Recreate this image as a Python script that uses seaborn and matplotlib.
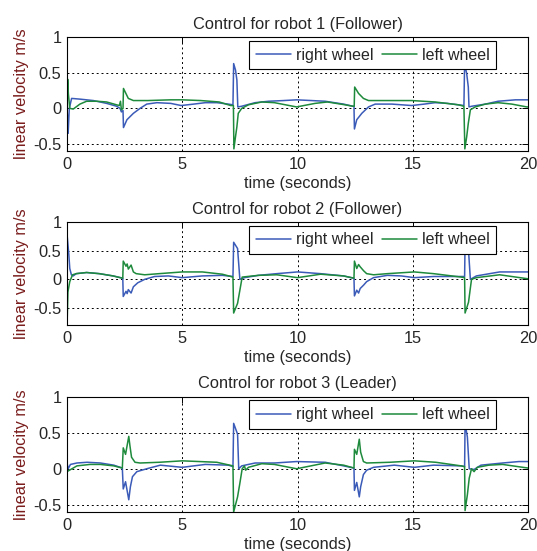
import matplotlib
matplotlib.use("Agg")
import matplotlib.pyplot as plt
import seaborn as sns
import pandas as pd

# ---------------- data (time s, velocity m/s) ----------------
titles = ["Control for robot 1 (Follower)", "Control for robot 2 (Follower)", "Control for robot 3 (Leader)"]
series_labels = ["right wheel", "left wheel"]
x_ticks = [0, 5, 10, 15, 20]
y_ticks = [-0.5, 0, 0.5, 1]
y_limits = [(-0.6, 1), (-0.8, 1), (-0.6, 1)]

r1_right = [(0, 0), (0.02, -0.1), (0.05, -0.35), (0.1, 0.0), (0.2, 0.14), (0.56, 0.13), (1.14, 0.11),
            (1.72, 0.07), (2.15, 0.03), (2.3, 0.0), (2.36, -0.05), (2.43, -0.03), (2.45, -0.27),
            (2.6, -0.16), (2.88, -0.07), (3.17, 0.0), (3.46, 0.06), (3.9, 0.08), (4.5, 0.07),
            (4.95, 0.04), (5.5, 0.06), (6.0, 0.08), (6.5, 0.08), (7.0, 0.06), (7.2, 0.05),
            (7.23, 0.63), (7.31, 0.54), (7.37, 0.4), (7.41, 0.02), (7.58, 0.03), (8.16, 0.08),
            (8.74, 0.1), (9.4, 0.11), (9.96, 0.12), (10.6, 0.11), (11.2, 0.1), (12.0, 0.06),
            (12.4, 0.03), (12.45, 0.03), (12.47, -0.29), (12.57, -0.16), (12.79, -0.07), (13.08, 0.02),
            (13.37, 0.06), (14.1, 0.06), (14.95, 0.04), (15.5, 0.06), (15.97, 0.08), (16.5, 0.07),
            (16.98, 0.05), (17.22, 0.04), (17.25, 0.63), (17.34, 0.49), (17.41, 0.3), (17.44, 0.02),
            (17.56, 0.03), (18.15, 0.06), (18.7, 0.1), (19.45, 0.12), (20, 0.12)]
r1_left = [(0, 0), (0.03, 0.41), (0.06, 0.2), (0.12, 0.0), (0.27, -0.01), (0.56, 0.06), (0.85, 0.1),
           (1.3, 0.1), (1.72, 0.09), (2.15, 0.05), (2.27, 0.04), (2.32, 0.1), (2.36, -0.02), (2.43, 0.0),
           (2.45, 0.28), (2.66, 0.14), (2.88, 0.11), (3.5, 0.11), (4.5, 0.12), (5.0, 0.12), (5.8, 0.11),
           (6.6, 0.09), (7.1, 0.04), (7.22, 0.04), (7.24, -0.57), (7.31, -0.4), (7.37, -0.26),
           (7.43, -0.07), (7.58, 0.0), (7.87, 0.05), (8.45, 0.09), (9.0, 0.08), (9.96, 0.02),
           (10.76, 0.07), (11.3, 0.09), (12.06, 0.05), (12.4, 0.03), (12.46, 0.03), (12.48, 0.3),
           (12.65, 0.21), (12.86, 0.14), (13.08, 0.11), (13.5, 0.11), (14.95, 0.11), (15.97, 0.09),
           (16.98, 0.05), (17.22, 0.03), (17.26, -0.57), (17.34, -0.4), (17.41, -0.21), (17.5, -0.02),
           (17.71, 0.02), (18.15, 0.06), (18.7, 0.08), (19.3, 0.06), (19.95, 0.02), (20, 0.02)]

r2_right = [(0, 0), (0.01, 0.75), (0.08, 0.43), (0.12, 0.19), (0.19, 0.08), (0.27, 0.06), (0.4, 0.1),
            (0.85, 0.12), (1.4, 0.1), (2.0, 0.06), (2.42, 0.02), (2.44, -0.3), (2.56, -0.21), (2.61, -0.25),
            (2.66, -0.18), (2.78, -0.24), (2.88, -0.13), (3.07, -0.06), (3.37, 0.0), (3.8, 0.05),
            (4.4, 0.06), (5.0, 0.03), (5.87, 0.06), (6.74, 0.07), (7.2, 0.05), (7.23, 0.65), (7.4, 0.54),
            (7.5, 0.0), (7.7, 0.03), (8.3, 0.07), (9.1, 0.1), (10.0, 0.13), (11.0, 0.1), (12.0, 0.06),
            (12.45, 0.02), (12.47, -0.29), (12.57, -0.19), (12.65, -0.24), (12.72, -0.16), (12.87, -0.1),
            (13.0, -0.04), (13.3, 0.03), (13.9, 0.07), (14.5, 0.06), (15.07, 0.03), (15.9, 0.05),
            (17.1, 0.05), (17.25, 0.05), (17.27, 0.65), (17.42, 0.5), (17.5, 0.0), (17.76, 0.06),
            (18.77, 0.13), (20, 0.13)]
r2_left = [(0, 0), (0.01, -0.68), (0.04, -0.22), (0.12, -0.04), (0.24, 0.08), (0.4, 0.1), (0.85, 0.12),
           (1.4, 0.1), (2.0, 0.06), (2.42, 0.02), (2.44, 0.32), (2.56, 0.23), (2.61, 0.27), (2.66, 0.18),
           (2.78, 0.25), (2.88, 0.13), (3.0, 0.1), (3.37, 0.08), (4.0, 0.1), (5.0, 0.13), (5.87, 0.13),
           (6.74, 0.09), (7.2, 0.04), (7.23, -0.59), (7.4, -0.42), (7.5, -0.19), (7.6, 0.04), (8.3, 0.07),
           (9.1, 0.08), (10.0, 0.03), (11.0, 0.09), (12.0, 0.06), (12.45, 0.02), (12.47, 0.32),
           (12.57, 0.19), (12.65, 0.26), (12.72, 0.22), (12.87, 0.15), (13.0, 0.1), (13.3, 0.08),
           (13.9, 0.1), (15.07, 0.13), (15.9, 0.1), (17.1, 0.04), (17.25, 0.03), (17.27, -0.59),
           (17.42, -0.4), (17.5, -0.15), (17.55, 0.0), (17.76, 0.03), (18.77, 0.08), (20, 0.01)]

r3_right = [(0, 0.08), (0.05, 0.0), (0.15, 0.06), (0.43, 0.08), (0.87, 0.09), (1.45, 0.08), (2.03, 0.05),
            (2.4, 0.01), (2.44, -0.28), (2.54, -0.18), (2.68, -0.43), (2.75, -0.25), (2.84, -0.11),
            (3.03, -0.04), (3.46, 0.0), (4.05, 0.05), (5.0, 0.02), (6.0, 0.06), (7.0, 0.05), (7.2, 0.03),
            (7.23, 0.63), (7.4, 0.48), (7.45, 0.0), (7.58, 0.04), (8.16, 0.08), (9.0, 0.08), (9.96, 0.1),
            (11.2, 0.09), (12.0, 0.04), (12.45, 0.01), (12.47, -0.3), (12.57, -0.19), (12.68, -0.39),
            (12.74, -0.25), (12.86, -0.08), (13.0, -0.02), (13.3, 0.02), (14.2, 0.05), (15.07, 0.02),
            (15.9, 0.05), (17.1, 0.04), (17.25, 0.03), (17.27, 0.63), (17.37, 0.44), (17.45, 0.0),
            (17.66, -0.01), (17.96, 0.05), (18.9, 0.08), (19.6, 0.1), (20, 0.1)]
r3_left = [(0, -0.04), (0.43, 0.04), (1.0, 0.06), (1.45, 0.06), (2.03, 0.04), (2.4, 0.01), (2.44, 0.29),
           (2.54, 0.2), (2.68, 0.45), (2.73, 0.32), (2.8, 0.16), (2.95, 0.09), (3.17, 0.08), (4.0, 0.09),
           (5.0, 0.11), (6.5, 0.09), (7.2, 0.04), (7.23, -0.6), (7.4, -0.39), (7.5, -0.2), (7.6, 0.0),
           (7.7, 0.04), (7.75, -0.02), (7.87, 0.02), (8.45, 0.07), (9.0, 0.06), (9.96, 0.0), (11.2, 0.08),
           (12.0, 0.05), (12.45, 0.01), (12.47, 0.27), (12.57, 0.2), (12.68, 0.41), (12.74, 0.23),
           (12.86, 0.1), (13.0, 0.08), (14.0, 0.09), (15.07, 0.11), (16.0, 0.09), (17.1, 0.04),
           (17.25, 0.03), (17.27, -0.58), (17.37, -0.36), (17.45, -0.13), (17.55, 0.0), (17.66, -0.04),
           (17.8, 0.02), (18.3, 0.05), (18.9, 0.06), (20, 0.01)]

robots = [(r1_right, r1_left), (r2_right, r2_left), (r3_right, r3_left)]

# ---------------- style ----------------
sns.set_style("white")
plt.rcParams["font.family"] = ["Liberation Sans", "DejaVu Sans"]
plt.rcParams["xtick.direction"] = "in"
plt.rcParams["ytick.direction"] = "in"

blue = "#3b5bb8"
green = "#1e8a3c"
label_red = "#7a1c1c"
fs = 11.8

fig = plt.figure(figsize=(5.37, 5.51), dpi=100)
W, H = 537, 551
left_px, right_px = 67, 528
boxes = [(37.3, 151), (222.3, 325), (396.7, 512)]

for i, ((rr, ll), (top, bot)) in enumerate(zip(robots, boxes)):
    ax = fig.add_axes([left_px / W, 1 - bot / H, (right_px - left_px) / W, (bot - top) / H])
    df_r = pd.DataFrame(rr, columns=["t", "v"])
    df_l = pd.DataFrame(ll, columns=["t", "v"])
    sns.lineplot(data=df_r, x="t", y="v", ax=ax, color=blue, lw=1.1, sort=False,
                 estimator=None, label=series_labels[0])
    sns.lineplot(data=df_l, x="t", y="v", ax=ax, color=green, lw=1.1, sort=False,
                 estimator=None, label=series_labels[1])
    ax.set_xlim(0, 20)
    ax.set_ylim(*y_limits[i])
    ax.set_xticks(x_ticks)
    ax.set_yticks(y_ticks)
    ax.set_xticklabels([str(v) for v in x_ticks])
    ax.set_yticklabels(["-0.5", "0", "0.5", "1"])
    ax.grid(True, color="black", linestyle=(0, (2, 3)), linewidth=0.7)
    ax.tick_params(axis="both", labelsize=fs, length=4, width=0.7, color="black",
                   top=True, right=True, pad=4)
    for s in ax.spines.values():
        s.set_color("black")
        s.set_linewidth(0.8)
    ax.set_title(titles[i], fontsize=fs, pad=6)
    ax.set_xlabel("time (seconds)", fontsize=fs, labelpad=3)
    ax.set_ylabel("linear velocity m/s", fontsize=fs, color=label_red, labelpad=3)
    leg = ax.legend(loc="upper right", bbox_to_anchor=(0.931, 0.968), borderaxespad=0, ncol=2,
                    fontsize=11.5, frameon=True, fancybox=False, handlelength=2.2,
                    handletextpad=0.3, columnspacing=0.55, borderpad=0.42, framealpha=1)
    leg.get_frame().set_edgecolor("black")
    leg.get_frame().set_linewidth(0.8)

fig.savefig("out.png", dpi=100)
